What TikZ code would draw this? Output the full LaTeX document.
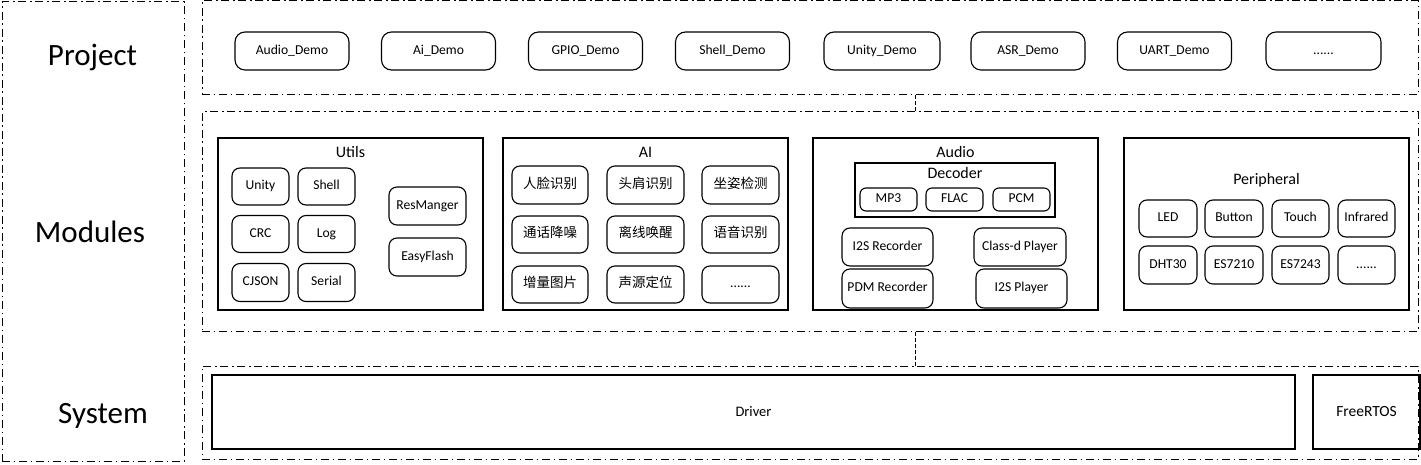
\documentclass[tikz,border=0pt]{standalone}
\usepackage{fontspec}
\setmainfont{Carlito}
\newfontfamily\cjk{Noto Sans CJK SC}

\begin{document}
\begin{tikzpicture}[x=1pt,y=-1pt,
    layer/.style={draw,line width=1pt,dash pattern=on 8pt off 3.5pt on 1.5pt off 4pt,inner sep=0pt},
    group/.style={draw,line width=1.2pt,inner sep=0pt},
    item/.style={draw,line width=1.1pt,rounded corners=8pt,inner sep=0pt,
        font=\fontsize{13.6}{15}\selectfont,text height=1.55ex,text depth=.15ex},
    zh/.style={item,font=\fontsize{13.5}{15}\cjk},
    title/.style={font=\fontsize{16}{18}\selectfont,inner sep=0pt},
    big/.style={font=\fontsize{31}{33}\selectfont,anchor=base,inner sep=0pt},
    link/.style={draw,line width=1pt,dash pattern=on 4pt off 2pt}]
    \useasboundingbox (0,0) rectangle (1421,465);

    % layer frames
    \node (lbl) at (93,231.5) [layer,minimum width=182pt,minimum height=459pt] {};
    \node (prj) at (810,48) [layer,minimum width=1216pt,minimum height=94pt] {};
    \node (mod) at (810,221.5) [layer,minimum width=1216pt,minimum height=219pt] {};
    \node (sys) at (810,412.5) [layer,minimum width=1216pt,minimum height=93pt] {};

    \node (tprj) at (92.5,66) [big] {Project};
    \node (tmod) at (90,242) [big] {Modules};
    \node (tsys) at (103,423) [big] {System};

    % projects
    \node (p1) at (292,51) [item,rounded corners=10pt,minimum width=114pt,minimum height=38pt] {Audio\_Demo};
    \node (p2) at (438.5,51) [item,rounded corners=10pt,minimum width=114pt,minimum height=38pt] {Ai\_Demo};
    \node (p3) at (585.5,51) [item,rounded corners=10pt,minimum width=114pt,minimum height=38pt] {GPIO\_Demo};
    \node (p4) at (732.5,51) [item,rounded corners=10pt,minimum width=114pt,minimum height=38pt] {Shell\_Demo};
    \node (p5) at (882,51) [item,rounded corners=10pt,minimum width=116pt,minimum height=38pt] {Unity\_Demo};
    \node (p6) at (1028,51) [item,rounded corners=10pt,minimum width=114pt,minimum height=38pt] {ASR\_Demo};
    \node (p7) at (1174.5,51) [item,rounded corners=10pt,minimum width=114pt,minimum height=38pt] {UART\_Demo};
    \node (p8) at (1323.5,51) [item,rounded corners=10pt,minimum width=115pt,minimum height=38pt] {......};

    % utils
    \node (utils) at (350.5,224) [group,minimum width=265pt,minimum height=172pt] {};
    \node (tutils) at (350.5,152) [title] {Utils};
    \node (unity) at (260.5,186.5) [item,minimum width=57pt,minimum height=37pt] {Unity};
    \node (shell) at (326.5,186.5) [item,minimum width=57pt,minimum height=37pt] {Shell};
    \node (crc) at (260.5,234) [item,minimum width=57pt,minimum height=37pt] {CRC};
    \node (log) at (326.5,234) [item,minimum width=57pt,minimum height=37pt] {Log};
    \node (cjson) at (260.5,282.5) [item,minimum width=57pt,minimum height=38pt] {CJSON};
    \node (serial) at (326.5,282.5) [item,minimum width=57pt,minimum height=38pt] {Serial};
    \node (resm) at (427.5,206) [item,minimum width=77pt,minimum height=38pt] {ResManger};
    \node (eflash) at (427.5,257) [item,minimum width=77pt,minimum height=38pt] {EasyFlash};

    % ai
    \node (ai) at (645.5,224) [group,minimum width=285pt,minimum height=172pt] {};
    \node (tai) at (645.5,152) [title] {AI};
    \node (face) at (550,185) [zh,minimum width=76pt,minimum height=38pt] {人脸识别};
    \node (head) at (645.5,185) [zh,minimum width=77pt,minimum height=38pt] {头肩识别};
    \node (pose) at (740.5,185) [zh,minimum width=77pt,minimum height=38pt] {坐姿检测};
    \node (anr) at (550,234.5) [zh,minimum width=76pt,minimum height=37pt] {通话降噪};
    \node (wake) at (645.5,234.5) [zh,minimum width=77pt,minimum height=37pt] {离线唤醒};
    \node (asr) at (740.5,234.5) [zh,minimum width=77pt,minimum height=37pt] {语音识别};
    \node (aug) at (550,284.5) [zh,minimum width=76pt,minimum height=37pt] {增量图片};
    \node (doa) at (645.5,284.5) [zh,minimum width=77pt,minimum height=37pt] {声源定位};
    \node (aimore) at (740.5,284.5) [item,minimum width=77pt,minimum height=37pt] {......};

    % audio
    \node (audio) at (955.5,224) [group,minimum width=285pt,minimum height=172pt] {};
    \node (taudio) at (955.5,152) [title] {Audio};
    \node (dec) at (955,190) [group,minimum width=200pt,minimum height=54pt] {};
    \node (tdec) at (955,173) [title] {Decoder};
    \node (mp3) at (888.5,199.5) [item,rounded corners=6pt,minimum width=57pt,minimum height=23pt] {MP3};
    \node (flac) at (954.5,199.5) [item,rounded corners=6pt,minimum width=57pt,minimum height=23pt] {FLAC};
    \node (pcm) at (1021.5,199.5) [item,rounded corners=6pt,minimum width=57pt,minimum height=23pt] {PCM};
    \node (i2srec) at (887.5,247) [item,minimum width=91pt,minimum height=38pt] {I2S Recorder};
    \node (pdmrec) at (887.5,288.5) [item,minimum width=91pt,minimum height=39pt] {PDM Recorder};
    \node (clsd) at (1020,247) [item,minimum width=92pt,minimum height=38pt] {Class-d Player};
    \node (i2sply) at (1021.5,288.5) [item,minimum width=91pt,minimum height=39pt] {I2S Player};

    % peripheral
    \node (peri) at (1266.5,224) [group,minimum width=285pt,minimum height=172pt] {};
    \node (tperi) at (1266.5,180) [title] {Peripheral};
    \node (led) at (1168,218.5) [item,minimum width=58pt,minimum height=37pt] {LED};
    \node (btn) at (1234,218.5) [item,minimum width=58pt,minimum height=37pt] {Button};
    \node (touch) at (1300.5,218.5) [item,minimum width=57pt,minimum height=37pt] {Touch};
    \node (ir) at (1366.5,218.5) [item,minimum width=57pt,minimum height=37pt] {Infrared};
    \node (dht) at (1168,265) [item,minimum width=58pt,minimum height=38pt] {DHT30};
    \node (es10) at (1234,265) [item,minimum width=58pt,minimum height=38pt] {ES7210};
    \node (es43) at (1300.5,265) [item,minimum width=57pt,minimum height=38pt] {ES7243};
    \node (perimore) at (1366.5,265) [item,minimum width=57pt,minimum height=38pt] {......};

    % system
    \node (drv) at (753.5,412) [group,font=\fontsize{14.5}{16}\selectfont,minimum width=1083pt,minimum height=74pt] {Driver};
    \node (rtos) at (1366.5,412) [group,font=\fontsize{15.5}{17}\selectfont,minimum width=107pt,minimum height=74pt] {FreeRTOS};

    \coordinate (tap) at (915,0);
    \draw[link] (prj.south -| tap) -- (mod.north -| tap);
    \draw[link] (mod.south -| tap) -- (sys.north -| tap);
\end{tikzpicture}
\end{document}
